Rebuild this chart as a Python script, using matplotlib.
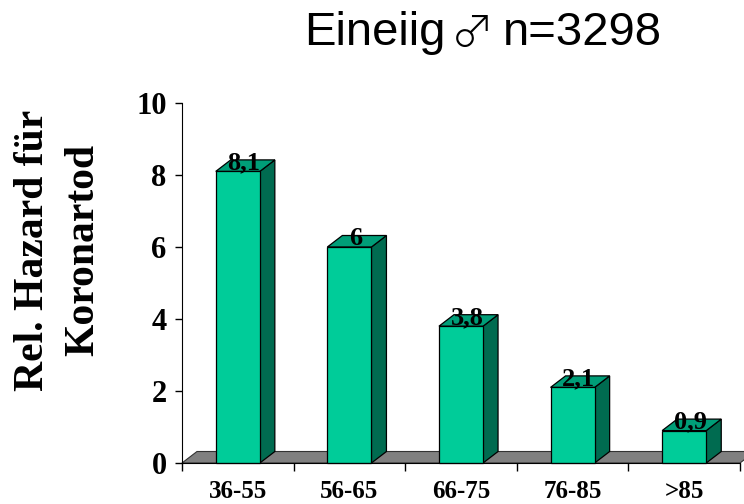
import numpy as np
import matplotlib.pyplot as plt
from matplotlib.patches import Polygon, Rectangle

#%% - données
categories = ['36-55', '56-65', '66-75', '76-85', '>85']
valeurs = [8.1, 6, 3.8, 2.1, 0.9]
etiquettes = ['8,1', '6', '3,8', '2,1', '0,9']
titre = ['Eineiig', '\u2642', 'n=3298']
label_y = 'Rel. Hazard für\nKoronartod'

#%% - styles
c_face = '#00CC99'
c_top = '#009E78'
c_side = '#006B50'
c_floor = '#808080'
serif = 'Liberation Serif'

fig = plt.figure(figsize=(7.44, 5.04), dpi=100)
ax = fig.add_axes([182/744, 1 - 463/504, 558/744, 360/504])

n = len(categories)
x = np.arange(n)
w = 0.395
# profondeur 3D (en unités de données)
dx = 15 / 111.6
dy = 11.5 / 36.0

ax.set_xlim(-0.5, n - 0.5)
ax.set_ylim(0, 10)

# plancher gris
sol = Polygon([(-0.5, 0), (n - 0.5, 0), (n - 0.5 + dx, dy), (-0.5 + dx, dy)],
              closed=True, facecolor=c_floor, edgecolor='#333333', lw=0.8,
              clip_on=False, zorder=1)
ax.add_patch(sol)

for i, v in zip(x, valeurs):
    g = i - w / 2
    d = i + w / 2
    cote = Polygon([(d, 0), (d + dx, dy), (d + dx, v + dy), (d, v)], closed=True,
                   facecolor=c_side, edgecolor='black', lw=0.9, zorder=2, clip_on=False)
    dessus = Polygon([(g, v), (d, v), (d + dx, v + dy), (g + dx, v + dy)], closed=True,
                     facecolor=c_top, edgecolor='black', lw=0.9, zorder=2, clip_on=False)
    face = Rectangle((g, 0), w, v, facecolor=c_face, edgecolor='black', lw=0.9,
                     zorder=3, clip_on=False)
    ax.add_patch(cote)
    ax.add_patch(dessus)
    ax.add_patch(face)

for i, v, t in zip(x, valeurs, etiquettes):
    ax.text(i + dx * 0.4, v + 0.06, t, ha='center', va='baseline',
            fontsize=19, fontweight='bold', family=serif, zorder=5)

# axes
ax.spines['top'].set_visible(False)
ax.spines['right'].set_visible(False)
ax.spines['left'].set_zorder(4)
ax.spines['bottom'].set_zorder(4)

ax.set_yticks(np.arange(0, 11, 2))
ax.set_yticklabels([str(t) for t in range(0, 11, 2)])
ax.set_xticks(np.arange(-0.5, n, 1.0))
ax.set_xticklabels([])
ax.set_xticks(x, minor=True)
ax.set_xticklabels(categories, minor=True)
ax.tick_params(axis='x', which='major', direction='out', length=6, width=1)
ax.tick_params(axis='x', which='minor', length=0, pad=12)
ax.tick_params(axis='y', direction='out', length=5, width=1, pad=6)
for lab in ax.get_yticklabels():
    lab.set_fontsize(22); lab.set_fontweight('bold'); lab.set_family(serif)
for lab in ax.get_xticklabels(minor=True):
    lab.set_fontsize(18); lab.set_fontweight('bold'); lab.set_family(serif)

fig.text(58/744, 1 - 250/504, label_y, rotation=90, ha='center', va='center',
         multialignment='center', fontsize=30, fontweight='bold', family=serif,
         linespacing=1.4)

# titre en trois morceaux (symbole plus grand)
yt = 1 - 33/504
fig.text(304/744, yt, titre[0], ha='left', va='center', fontsize=34,
         family='Liberation Sans')
fig.text(472/744, yt - 1/504, titre[1], ha='center', va='center', fontsize=31,
         family=['Noto Sans CJK JP', 'DejaVu Sans'], fontweight='light')
fig.text(662/744, yt, titre[2], ha='right', va='center', fontsize=34,
         family='Liberation Sans')

fig.savefig('out.png', dpi=100)
